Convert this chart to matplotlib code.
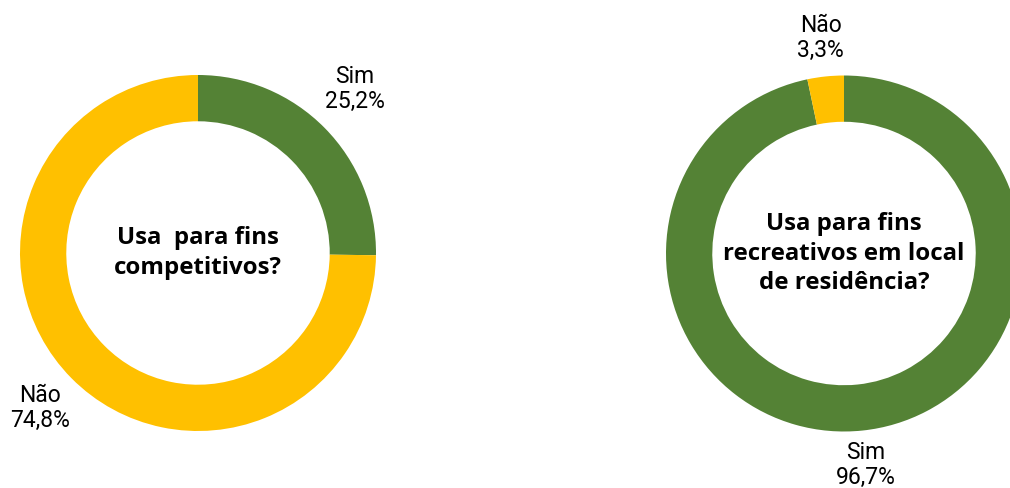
import matplotlib.pyplot as plt

labels = ["Sim", "Não"]
competitivo = [25.2, 74.8]
recreativo = [96.7, 3.3]
colors = ["#548235", "#FFC000"]

titles = ["Usa  para fins\ncompetitivos?",
          "Usa para fins\nrecreativos em local\nde residência?"]

W, H = 1010, 488
fig = plt.figure(figsize=(W / 100, H / 100), dpi=100)


def donut(cx, cy, r, values, title, label_pos):
    ax = fig.add_axes([(cx - r) / W, (H - cy - r) / H, 2 * r / W, 2 * r / H])
    ax.pie(values, colors=colors, startangle=90, counterclock=False,
           radius=1, wedgeprops=dict(width=0.26, linewidth=0))
    ax.set_xlim(-1, 1)
    ax.set_ylim(-1, 1)
    ax.set_aspect("equal")
    ax.axis("off")
    ax.text(0, 0, title, ha="center", va="center", fontsize=17.3,
            fontweight="bold", family="Open Sans", linespacing=1.33)
    for lab, val, (x, y) in zip(labels, values, label_pos):
        txt = lab + "\n" + f"{val:.1f}".replace(".", ",") + "%"
        ax.text(x, y, txt, ha="center", va="center", fontsize=16.5,
                family="Roboto", linespacing=1.12, clip_on=False)


donut(198, 253, 178, competitivo, titles[0], [(0.88, 0.92), (-0.89, -0.87)])
donut(844, 253.5, 178, recreativo, titles[1], [(0.12, -1.19), (-0.13, 1.21)])

fig.savefig("out.png", dpi=100)
